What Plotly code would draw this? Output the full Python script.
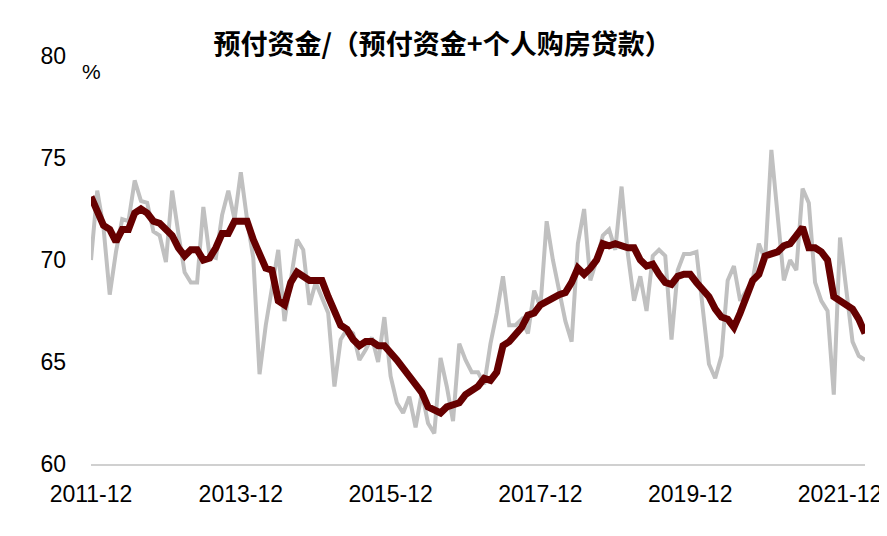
import plotly.graph_objects as go
import pandas as pd

ratio_ma = [73.1,72.4,71.7,71.5,70.9,71.5,71.5,72.3,72.5,72.3,71.9,71.8,71.5,71.2,70.6,70.2,70.5,70.5,70.0,70.1,
            70.6,71.3,71.3,71.9,71.9,71.9,71.0,70.2,69.6,69.5,68.0,67.8,68.9,69.4,69.2,69.0,69.0,69.0,68.2,67.5,
            66.8,66.6,66.1,65.8,66.0,66.0,65.8,65.8,65.5,65.1,64.7,64.3,63.8,63.5,62.8,62.6,62.5,62.8,62.9,63.0,
            63.4,63.6,63.8,64.2,64.1,64.5,65.8,66.0,66.4,66.7,67.3,67.4,67.8,68.0,68.1,68.3,68.4,68.9,69.6,69.3,
            69.6,70.0,70.8,70.7,70.8,70.7,70.6,70.6,70.0,69.7,69.8,69.3,68.9,68.8,69.2,69.3,69.3,68.9,68.5,68.2,
            67.6,67.2,67.1,66.7,67.4,68.2,69.0,69.3,70.2,70.3,70.4,70.7,70.8,71.2,71.6,70.6,70.6,70.4,70.0,68.2,
            68.0,67.8,67.6,67.1,66.4]
ratio_raw = [70.0,73.4,71.6,68.3,70.4,72.0,71.9,73.9,72.9,72.8,
             71.4,71.2,69.9,73.4,71.3,69.4,68.9,68.9,72.6,70.2,
             70.1,72.2,73.4,72.0,74.3,72.0,70.1,64.4,66.8,68.7,
             70.5,67.0,69.0,71.0,70.5,67.8,68.9,68.2,67.4,63.8,
             66.1,66.6,66.4,65.1,65.6,66.2,65.0,67.2,64.3,63.0,
             62.5,63.3,61.8,63.5,62.0,61.5,65.2,63.8,62.1,65.9,
             65.1,64.5,64.5,63.9,65.9,67.4,69.2,66.8,66.8,67.1,
             66.4,68.5,67.7,71.9,70.0,68.5,67.0,66.0,70.8,72.5,
             69.0,70.0,71.2,71.5,70.5,73.6,70.3,68.0,69.2,67.5,
             70.2,70.5,70.2,66.1,69.5,70.3,70.3,70.4,67.5,64.9,
             64.2,65.3,69.0,69.7,68.0,68.5,69.0,70.8,70.0,75.4,
             72.0,69.0,70.0,69.5,73.5,72.8,68.9,68.0,67.5,
             63.4,71.1,68.5,66.0,65.3,65.1]
months = [d.strftime("%Y-%m") for d in pd.date_range("2011-12-01", periods=len(ratio_ma), freq="MS")]
tick_labels = ["2011-12", "2013-12", "2015-12", "2017-12", "2019-12", "2021-12"]

fig = go.Figure()
fig.add_trace(go.Scatter(x=months, y=ratio_raw[:len(months)], mode="lines",
                         line=dict(color="#c0c0c0", width=4), showlegend=False))
fig.add_trace(go.Scatter(x=months, y=ratio_ma, mode="lines",
                         line=dict(color="#660000", width=7), showlegend=False))
fig.update_layout(
    width=887, height=536, plot_bgcolor="white", paper_bgcolor="white",
    margin=dict(l=83, r=30, t=48, b=80),
    font=dict(family="Liberation Sans, Arial", size=23, color="black"),
    title=dict(text="<b>预付资金/（预付资金+个人购房贷款）</b>", x=0.49, xanchor="center", y=0.95,
               font=dict(family="Noto Sans CJK SC", size=27, color="black")),
    xaxis=dict(type="category", tickvals=tick_labels, ticktext=tick_labels, range=[0, len(months) - 1],
               showgrid=False, showline=True, linecolor="#d0d0d0", linewidth=2, ticks="", ticklabelstandoff=8),
    yaxis=dict(range=[60, 80], dtick=5, showgrid=False, zeroline=False, showline=False, ticks="",
               ticklabelstandoff=24),
)
fig.add_annotation(text="%", xref="paper", yref="paper", x=0.0, y=1.0, xanchor="center", yanchor="top",
                   showarrow=False, yshift=-2, font=dict(size=21))
fig.write_html("out.html")
